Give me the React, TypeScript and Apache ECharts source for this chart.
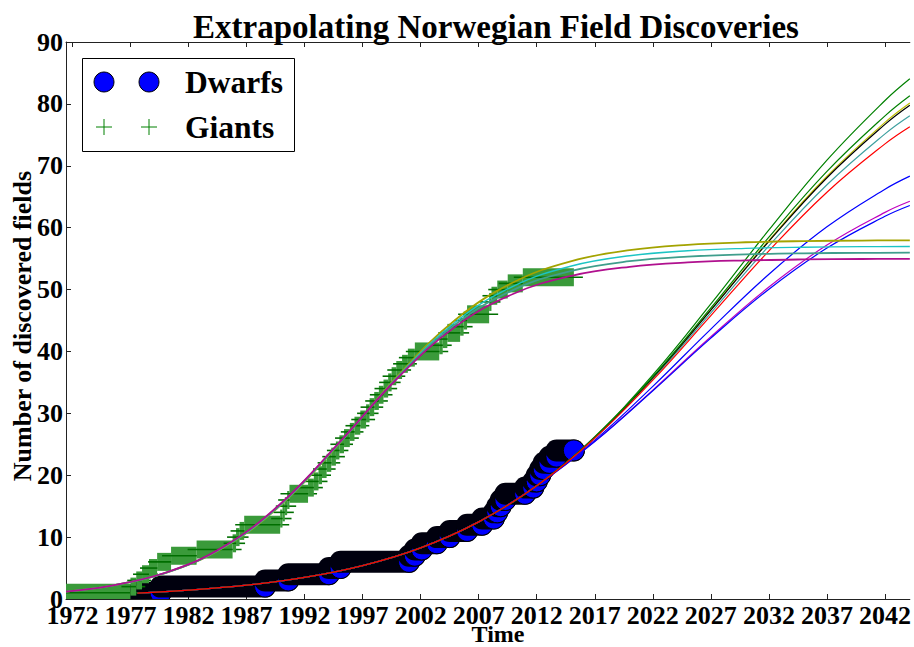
import React, { useEffect, useRef } from "react";
import * as echarts from "echarts";

const FONT = "'Liberation Serif', 'Times New Roman', serif";

// x-axis range and tick labels
const xMin = 1971.45;
const xMax = 2044.14;
const xTicks = [1972, 1977, 1982, 1987, 1992, 1997, 2002, 2007, 2012, 2017, 2022, 2027, 2032, 2037, 2042];

// Dwarfs: time at which the cumulative count becomes the value
const dwarfTimes = [1977.6, 1979.6, 1988.6, 1990.6, 1994.1, 1995.1, 2001.0, 2001.5, 2002.1, 2003.4, 2004.5, 2006.0, 2007.3, 2008.3, 2008.6, 2008.9, 2009.3, 2011.0, 2011.7, 2012.0, 2012.3, 2012.6, 2013.1, 2013.7];
const dwarfCounts = [1, 2, 3, 4, 5, 6, 7, 8, 9, 10, 11, 12, 13, 14, 15, 16, 17, 18, 19, 20, 21, 22, 23, 24];
const dwarfEnd = 2015.2;

// Giants
const giantTimes = [1971.45, 1977.0, 1977.5, 1978.0, 1978.6, 1979.3, 1980.5, 1982.7, 1985.8, 1986.1, 1986.4, 1986.8, 1989.9, 1990.1, 1990.3, 1990.5, 1990.7, 1992.3, 1992.8, 1993.2, 1993.5, 1993.9, 1994.3, 1994.7, 1995.0, 1995.4, 1995.9, 1996.3, 1996.8, 1997.3, 1997.6, 1998.0, 1998.4, 1998.8, 1999.2, 1999.5, 1999.9, 2000.4, 2000.9, 2001.5, 2003.6, 2003.9, 2004.3, 2005.4, 2005.7, 2006.0, 2007.9, 2008.1, 2008.6, 2009.5, 2010.8];
const giantCounts = [1, 2, 3, 4, 5, 6, 7, 8, 9, 10, 11, 12, 13, 14, 15, 16, 17, 18, 19, 20, 21, 22, 23, 24, 25, 26, 27, 28, 29, 30, 31, 32, 33, 34, 35, 36, 37, 38, 39, 40, 41, 42, 43, 44, 45, 46, 48, 49, 50, 51, 52];
const giantEnd = 2015.2;

// Fitted curves for dwarfs (shared early part, then each curve)
const dwarfFitYears = [1977.6, 1982, 1987, 1992, 1997, 2002, 2007, 2012, 2017, 2022, 2027, 2032, 2037, 2042, 2044.14];
const dwarfFitEarly = [0.95, 1.42, 2.23, 3.48, 5.4, 8.27, 12.46, 18.3];
const dwarfFitBlue1 = [25.67, 34.36, 43.61, 52.48, 60.14, 66.22, 68.33];
const dwarfFitGreen1 = [26.24, 36.2, 47.67, 59.63, 70.9, 80.54, 84.05];
const dwarfFitCyan = [26.05, 35.57, 46.24, 57.05, 66.93, 75.16, 78.09];
const dwarfFitMagenta = [25.47, 33.75, 42.37, 50.41, 57.2, 62.47, 64.26];
const dwarfFitYellow = [26.12, 35.8, 46.75, 57.96, 68.31, 77.01, 80.14];
const dwarfFitBlack = [26.11, 35.76, 46.66, 57.8, 68.07, 76.69, 79.78];
const dwarfFitBlue2 = [25.44, 33.65, 42.15, 50.06, 56.7, 61.83, 63.58];
const dwarfFitGreen2 = [26.16, 35.93, 47.04, 58.47, 69.1, 78.07, 81.32];
const dwarfFitRed = [25.98, 35.36, 45.79, 56.25, 65.73, 73.54, 76.31];

// Fitted curves for giants
const giantFitYears = [1971.45, 1975, 1980, 1985, 1990, 1995, 2000, 2005, 2010, 2015, 2020, 2025, 2030, 2035, 2040, 2044.14];
const giantFitOlive = [1.2, 2.03, 4.18, 8.27, 15.24, 25.11, 36.0, 45.13, 51.18, 54.6, 56.37, 57.23, 57.64, 57.83, 57.92, 57.96];
const giantFitCyan = [1.2, 2.03, 4.19, 8.32, 15.31, 25.15, 35.88, 44.75, 50.56, 53.81, 55.47, 56.28, 56.66, 56.84, 56.93, 56.96];
const giantFitTeal = [1.2, 2.04, 4.22, 8.37, 15.41, 25.23, 35.78, 44.39, 49.95, 53.03, 54.58, 55.33, 55.69, 55.86, 55.93, 55.96];
const giantFitMagenta = [1.2, 2.04, 4.24, 8.43, 15.51, 25.29, 35.67, 44.01, 49.32, 52.23, 53.68, 54.39, 54.71, 54.87, 54.94, 54.97];

function levels(times: number[], counts: number[], end: number) {
  return times.map((t, i) => [t, i + 1 < times.length ? times[i + 1] : end, counts[i]]);
}

function pts(xs: number[], ys: number[]) {
  return xs.map((x, i) => [x, ys[i]]);
}

function fitLine(name: string, xs: number[], ys: number[], color: string, width = 1.2) {
  return {
    type: "line",
    name,
    data: pts(xs, ys),
    smooth: 0.4,
    symbol: "none",
    lineStyle: { color, width },
    z: 5,
    silent: true,
  };
}

export default function App() {
  const ref = useRef<HTMLDivElement>(null);
  useEffect(() => {
    if (!ref.current) return;
    const chart = echarts.init(ref.current, undefined, { renderer: "svg" });
    const axisLabel = { fontFamily: FONT, fontWeight: "bold", fontSize: 26, color: "#000", lineHeight: 20 };
    const dwarfR = 11;
    const giantH = 18;
    const option: any = {
      animation: false,
      grid: { left: 66, right: 0, top: 42, bottom: 48 },
      xAxis: [
        {
          type: "value",
          min: xMin,
          max: xMax,
          position: "bottom",
          axisLine: { show: true, onZero: false, lineStyle: { color: "#222", width: 1 } },
          axisTick: { show: true, inside: true, length: 5, customValues: xTicks, lineStyle: { color: "#222" } },
          axisLabel: { ...axisLabel, margin: 6, customValues: xTicks, formatter: (v: number) => String(v) },
          splitLine: { show: false },
        },
        {
          type: "value",
          min: xMin,
          max: xMax,
          position: "top",
          axisLine: { show: true, onZero: false, lineStyle: { color: "#222", width: 1 } },
          axisTick: { show: true, inside: true, length: 5, customValues: xTicks, lineStyle: { color: "#222" } },
          axisLabel: { show: false },
          splitLine: { show: false },
        },
      ],
      yAxis: {
        type: "value",
        min: 0,
        max: 90,
        interval: 10,
        axisLine: { show: true, lineStyle: { color: "#222", width: 1 } },
        axisTick: { show: true, inside: true, length: 5, lineStyle: { color: "#222" } },
        axisLabel: { ...axisLabel, margin: 3 },
        splitLine: { show: false },
      },
      series: [
        {
          type: "custom",
          name: "Dwarfs",
          clip: true,
          z: 2,
          data: levels(dwarfTimes, dwarfCounts, dwarfEnd),
          renderItem: (params: any, api: any) => {
            const p0 = api.coord([api.value(0), api.value(2)]);
            const p1 = api.coord([api.value(1), api.value(2)]);
            return {
              type: "group",
              children: [
                {
                  type: "rect",
                  shape: { x: p0[0] - dwarfR, y: p0[1] - dwarfR, width: p1[0] - p0[0] + 2 * dwarfR, height: 2 * dwarfR, r: dwarfR },
                  style: { fill: "#00000e" },
                },
                {
                  type: "circle",
                  shape: { cx: p1[0], cy: p1[1], r: dwarfR - 0.5 },
                  style: { fill: "#0000ff", stroke: "#000", lineWidth: 1 },
                },
              ],
            };
          },
        },
        {
          type: "custom",
          name: "Giants",
          clip: true,
          z: 3,
          data: levels(giantTimes, giantCounts, giantEnd),
          renderItem: (params: any, api: any) => {
            const p0 = api.coord([api.value(0), api.value(2)]);
            const p1 = api.coord([api.value(1), api.value(2)]);
            return {
              type: "group",
              children: [
                {
                  type: "rect",
                  shape: { x: p0[0], y: p0[1] - giantH / 2, width: Math.max(p1[0] - p0[0], 1), height: giantH },
                  style: { fill: "#3a9a3a" },
                },
                {
                  type: "line",
                  shape: { x1: p0[0] - giantH / 2, y1: p0[1], x2: p1[0] + giantH / 2, y2: p1[1] },
                  style: { stroke: "#006e00", lineWidth: 1.6 },
                },
              ],
            };
          },
        },
        fitLine("d-blue1", dwarfFitYears, dwarfFitEarly.concat(dwarfFitBlue1), "#0000ff"),
        fitLine("d-green1", dwarfFitYears, dwarfFitEarly.concat(dwarfFitGreen1), "#008000"),
        fitLine("d-cyan", dwarfFitYears, dwarfFitEarly.concat(dwarfFitCyan), "#3fa0a0"),
        fitLine("d-magenta", dwarfFitYears, dwarfFitEarly.concat(dwarfFitMagenta), "#bf00bf"),
        fitLine("d-yellow", dwarfFitYears, dwarfFitEarly.concat(dwarfFitYellow), "#bfbf00"),
        fitLine("d-black", dwarfFitYears, dwarfFitEarly.concat(dwarfFitBlack), "#000000"),
        fitLine("d-blue2", dwarfFitYears, dwarfFitEarly.concat(dwarfFitBlue2), "#0000ff"),
        fitLine("d-green2", dwarfFitYears, dwarfFitEarly.concat(dwarfFitGreen2), "#008000"),
        fitLine("d-red", dwarfFitYears, dwarfFitEarly.concat(dwarfFitRed), "#ff0000"),
        fitLine("g-olive", giantFitYears, giantFitOlive, "#a3a300", 1.8),
        fitLine("g-cyan", giantFitYears, giantFitCyan, "#1cc4c4", 1.4),
        fitLine("g-teal", giantFitYears, giantFitTeal, "#3f9e8c", 1.8),
        fitLine("g-magenta", giantFitYears, giantFitMagenta, "#b0108e", 1.8),
      ],
      graphic: [
        {
          type: "text",
          x: 496,
          y: 27,
          z: 100,
          style: { text: "Extrapolating Norwegian Field Discoveries", fill: "#000", fontFamily: FONT, fontWeight: "bold", fontSize: 33, align: "center", verticalAlign: "middle" },
        },
        {
          type: "text",
          x: 498,
          y: 633.5,
          z: 100,
          style: { text: "Time", fill: "#000", fontFamily: FONT, fontWeight: "bold", fontSize: 24, lineHeight: 20, align: "center", verticalAlign: "middle" },
        },
        {
          type: "text",
          x: 22,
          y: 326,
          rotation: Math.PI / 2,
          z: 100,
          style: { text: "Number of discovered fields", fill: "#000", fontFamily: FONT, fontWeight: "bold", fontSize: 26, align: "center", verticalAlign: "middle" },
        },
        {
          type: "group",
          z: 100,
          children: [
            { type: "rect", shape: { x: 82.5, y: 58.5, width: 212, height: 93 }, style: { fill: "#fff", stroke: "#000", lineWidth: 1 } },
            { type: "circle", shape: { cx: 104, cy: 82, r: 10 }, style: { fill: "#0000ff", stroke: "#000", lineWidth: 1 } },
            { type: "circle", shape: { cx: 149, cy: 82, r: 10 }, style: { fill: "#0000ff", stroke: "#000", lineWidth: 1 } },
            { type: "text", x: 185, y: 82, style: { text: "Dwarfs", fill: "#000", fontFamily: FONT, fontWeight: "bold", fontSize: 31.5, align: "left", verticalAlign: "middle" } },
            { type: "line", shape: { x1: 96, y1: 127, x2: 112, y2: 127 }, style: { stroke: "#008000", lineWidth: 1 } },
            { type: "line", shape: { x1: 104, y1: 119, x2: 104, y2: 135 }, style: { stroke: "#008000", lineWidth: 1 } },
            { type: "line", shape: { x1: 141, y1: 127, x2: 157, y2: 127 }, style: { stroke: "#008000", lineWidth: 1 } },
            { type: "line", shape: { x1: 149, y1: 119, x2: 149, y2: 135 }, style: { stroke: "#008000", lineWidth: 1 } },
            { type: "text", x: 185, y: 127, style: { text: "Giants", fill: "#000", fontFamily: FONT, fontWeight: "bold", fontSize: 31.5, align: "left", verticalAlign: "middle" } },
          ],
        },
      ],
    };
    chart.setOption(option);
    return () => chart.dispose();
  }, []);
  return <div ref={ref} style={{ width: 914, height: 647, position: "absolute", left: 0, top: 0, background: "#fff" }} />;
}
